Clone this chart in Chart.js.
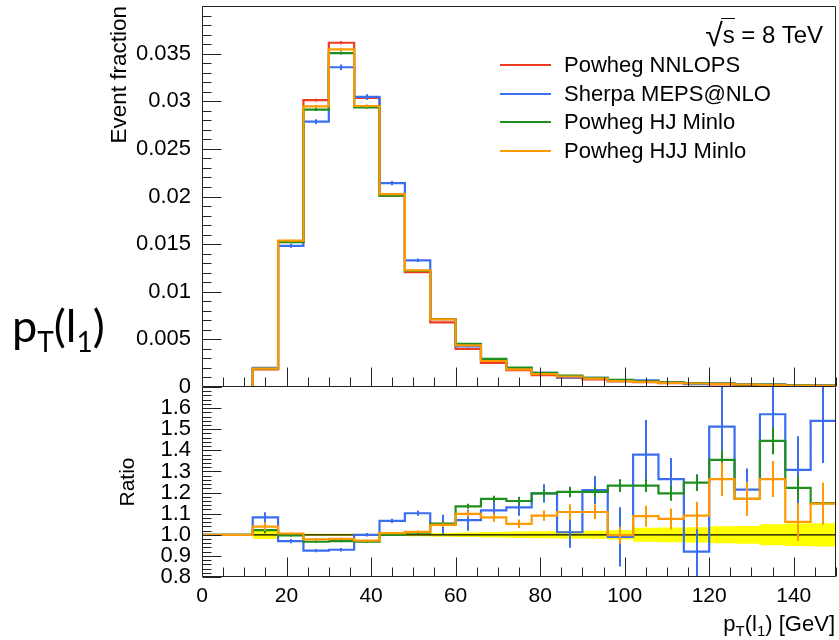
<!DOCTYPE html>
<html><head><meta charset="utf-8">
<script src="https://cdn.jsdelivr.net/npm/chart.js@4.4.1/dist/chart.umd.min.js"></script>
<style>
html,body{margin:0;padding:0;background:#fff;}
#wrap{position:relative;width:839px;height:640px;overflow:hidden;font-family:"Liberation Sans",Arial,sans-serif;color:#000;}
canvas{position:absolute;left:0;top:0;}
.t{position:absolute;white-space:nowrap;line-height:22px;font-size:22px;}
.ln{position:absolute;height:2px;width:51px;left:500px;}
.sb{font-size:15px;position:relative;top:5px;}
</style></head><body>
<div id="wrap">
<canvas id="cTop" width="839" height="640"></canvas>
<canvas id="cBot" width="839" height="640"></canvas>
<div class="t" style="right:16px;top:20px;font-size:24px;line-height:24px;"><span style="font-size:32px;position:relative;top:3px;">&radic;</span><span style="border-top:1.5px solid #000;padding-top:2px;margin-left:-2px;padding-left:2px;">s</span> = 8 TeV</div>
<div id="legend"></div>
<div class="t" style="right:4px;top:613px;">p<span class="sb">T</span>(l<span class="sb">1</span>) [GeV]</div>
<div style="position:absolute;left:12px;top:300px;font-family:Lato,'Open Sans',sans-serif;font-size:45px;line-height:50px;white-space:nowrap;">p<span style="font-size:28px;position:relative;top:10px;">T</span>(l<span style="font-size:28px;position:relative;top:10px;">1</span>)</div>
</div>
<script>
// ---------------- data ----------------
const binEdges = [0,6,12,18,24,30,36,42,48,54,60,66,72,78,84,90,96,102,108,114,120,126,132,138,144,150];
const seriesNames = ['Powheg NNLOPS','Sherpa MEPS@NLO','Powheg HJ Minlo','Powheg HJJ Minlo'];
const seriesColors = ['#ee3b22','#3a6df0','#1f8f1f','#ff9900'];

// event fraction per bin
const nnlops  = [0,0,0.00186,0.01527,0.03012,0.03614,0.03035,0.02008,0.01207,0.00678,0.00399,0.00252,0.00176,0.00124,0.00099,0.00079,0.00062,0.00050,0.00041,0.00034,0.00026,0.00022,0.00018,0.00015,0.00013];
const sherpa  = [0,0,0.00201,0.01481,0.02786,0.03357,0.03045,0.02141,0.01330,0.00712,0.00427,0.00281,0.00198,0.00148,0.00100,0.00096,0.00061,0.00069,0.00052,0.00031,0.00039,0.00027,0.00028,0.00020,0.00020];
const hjMinlo = [0,0,0.00190,0.01522,0.02913,0.03506,0.02935,0.02008,0.01219,0.00714,0.00453,0.00295,0.00204,0.00148,0.00119,0.00095,0.00076,0.00062,0.00049,0.00042,0.00035,0.00026,0.00026,0.00018,0.00015];
const hjjMinlo= [0,0,0.00193,0.01536,0.02946,0.03545,0.02950,0.02024,0.01224,0.00710,0.00438,0.00273,0.00185,0.00135,0.00110,0.00088,0.00062,0.00054,0.00044,0.00037,0.00033,0.00026,0.00023,0.00016,0.00015];

const errNnlops  = [0,0,0.00005,0.00012,0.00015,0.00016,0.00015,0.00012,0.0001,0.00007,0.00005,0.00004,0.00003,0.00003,0.00002,0.00002,0.00002,0.00002,0.00002,0.00001,0.00001,0.00001,0.00001,0.00001,0.00001];
const errSherpa  = [0,0,0.0001,0.0002,0.00025,0.0003,0.00028,0.00022,0.00018,0.00012,0.0001,0.00008,0.00006,0.00005,0.00005,0.00005,0.00004,0.00004,0.00004,0.00003,0.00003,0.00003,0.00003,0.00002,0.00002];
const errHJ      = [0,0,0.00005,0.00012,0.00015,0.00016,0.00015,0.00012,0.0001,0.00007,0.00005,0.00004,0.00003,0.00003,0.00002,0.00002,0.00002,0.00002,0.00002,0.00001,0.00001,0.00001,0.00001,0.00001,0.00001];
const errHJJ     = [0,0,0.00005,0.00012,0.00015,0.00016,0.00015,0.00012,0.0001,0.00007,0.00005,0.00004,0.00003,0.00003,0.00002,0.00002,0.00002,0.00002,0.00002,0.00001,0.00001,0.00001,0.00001,0.00001,0.00001];

// ratio to Powheg NNLOPS
const ratioSherpa = [1,1,1.082,0.970,0.925,0.929,1.000,1.066,1.102,1.050,1.069,1.116,1.130,1.196,1.012,1.212,0.990,1.380,1.264,0.920,1.512,1.214,1.571,1.307,1.540];
const ratioHJ     = [1,1,1.022,0.997,0.967,0.970,0.967,1.000,1.010,1.053,1.135,1.170,1.160,1.196,1.203,1.203,1.233,1.233,1.196,1.247,1.355,1.170,1.445,1.222,1.150];
const ratioHJJ    = [1,1,1.039,1.006,0.978,0.981,0.972,1.008,1.014,1.047,1.099,1.082,1.052,1.091,1.108,1.108,0.998,1.088,1.075,1.091,1.264,1.170,1.264,1.061,1.148];
const ratioErrSherpa = [0,0,0.025,0.010,0.008,0.008,0.008,0.010,0.012,0.045,0.050,0.040,0.040,0.043,0.074,0.067,0.140,0.164,0.100,0.160,0.200,0.100,0.160,0.160,0.200];
const ratioErrHJ     = [0,0,0.015,0.005,0.005,0.005,0.005,0.005,0.006,0.010,0.012,0.015,0.020,0.020,0.025,0.025,0.030,0.030,0.035,0.040,0.047,0.050,0.063,0.055,0.070];
const ratioErrHJJ    = [0,0,0.020,0.005,0.005,0.005,0.005,0.005,0.006,0.010,0.015,0.020,0.020,0.025,0.037,0.035,0.040,0.050,0.050,0.065,0.080,0.080,0.085,0.090,0.100];
const refBandHalf    = [null,null,0.020,0.006,0.005,0.005,0.005,0.006,0.007,0.009,0.011,0.013,0.015,0.017,0.018,0.019,0.022,0.033,0.035,0.036,0.040,0.042,0.050,0.053,0.055];

// tick labels
const topYTicks   = [0,0.005,0.01,0.015,0.02,0.025,0.03,0.035];
const ratioYTicks = [0.8,0.9,1.0,1.1,1.2,1.3,1.4,1.5,1.6];
const xTicks      = [0,20,40,60,80,100,120,140];

// ---------------- helpers ----------------
const FONT = '"Liberation Sans", Arial, sans-serif';
function steps(vals){
  const pts = [];
  vals.forEach((v,i)=>{ pts.push({x:binEdges[i], y:v}); });
  pts.push({x:binEdges[vals.length], y:vals[vals.length-1]});
  return pts;
}
function bandSteps(half, sign){
  const pts = [];
  half.forEach((h,i)=>{ if(h!==null) pts.push({x:binEdges[i], y:1+sign*h}); });
  pts.push({x:binEdges[half.length], y:1+sign*half[half.length-1]});
  return pts;
}
function noPad(s){ s.paddingTop = 0; s.paddingBottom = 0; s.paddingLeft = 0; s.paddingRight = 0; }

const errBars = {
  id:'errBars',
  afterDatasetDraw(chart, args){
    const ds = chart.data.datasets[args.index];
    if(!ds.vals || !ds.errs) return;
    const {ctx, chartArea:a} = chart; const xs = chart.scales.x, ys = chart.scales.y;
    ctx.save();
    ctx.beginPath(); ctx.rect(a.left, a.top, a.right-a.left, a.bottom-a.top); ctx.clip();
    ctx.strokeStyle = ds.borderColor; ctx.lineWidth = 2;
    ctx.beginPath();
    ds.vals.forEach((v,j)=>{
      const e = ds.errs[j]; if(!e) return;
      const px = Math.round(xs.getPixelForValue((binEdges[j]+binEdges[j+1])/2));
      ctx.moveTo(px, ys.getPixelForValue(v-e)); ctx.lineTo(px, ys.getPixelForValue(v+e));
    });
    ctx.stroke(); ctx.restore();
  }
};

const axisDeco = {
  id:'axisDeco',
  afterDraw(chart, args, o){
    const {ctx, chartArea:a} = chart; const xs = chart.scales.x, ys = chart.scales.y;
    const L = Math.round(a.left)+0.5, R = Math.round(a.right)-0.5, T = Math.round(a.top)+0.5, B = Math.round(a.bottom)-0.5;
    ctx.save(); ctx.strokeStyle = '#222'; ctx.lineWidth = 1; ctx.beginPath();
    ctx.moveTo(L, B); ctx.lineTo(R, B); ctx.lineTo(R, T);
    if(o.drawTop){ ctx.lineTo(L, T); } else { ctx.moveTo(L, T); }
    ctx.lineTo(L, B);
    const nx = Math.round((o.xMax-o.xMin)/o.xMinor);
    for(let k=0;k<=nx;k++){
      const v = o.xMin + k*o.xMinor;
      const major = (k % Math.round(o.xMajor/o.xMinor)) === 0;
      const px = Math.round(xs.getPixelForValue(v))+0.5;
      ctx.moveTo(px, B); ctx.lineTo(px, B-(major?19:9));
    }
    const ny = Math.round((o.yMax-o.yMin)/o.yMinor);
    for(let k=0;k<=ny;k++){
      const v = o.yMin + k*o.yMinor;
      const major = (k % Math.round(o.yMajor/o.yMinor)) === 0;
      const py = Math.round(ys.getPixelForValue(v))+0.5;
      ctx.moveTo(L, py); ctx.lineTo(L+(major?19:9), py);
    }
    ctx.stroke(); ctx.restore();
  }
};

function lineDs(label, vals, errs, color, order, width){
  return {label, data: steps(vals), vals, errs, borderColor: color, backgroundColor: color,
    borderWidth: width||2.2, stepped: true, pointRadius: 0, fill: false, order,
    borderJoinStyle:'miter', borderCapStyle:'butt'};
}

// ---------------- top panel ----------------
new Chart(document.getElementById('cTop'), {
  type:'line',
  data:{ datasets:[
    lineDs(seriesNames[0], nnlops, errNnlops, seriesColors[0], 4),
    lineDs(seriesNames[1], sherpa, errSherpa, seriesColors[1], 3),
    lineDs(seriesNames[2], hjMinlo, errHJ, seriesColors[2], 2),
    lineDs(seriesNames[3], hjjMinlo, errHJJ, seriesColors[3], 1)
  ]},
  options:{
    responsive:false, animation:false, events:[],
    layout:{padding:{left:0, right:3, top:6, bottom:253}},
    plugins:{legend:{display:false}, tooltip:{enabled:false},
      axisDeco:{drawTop:true, xMin:0, xMax:150, xMajor:20, xMinor:5, yMin:0, yMax:0.04, yMajor:0.005, yMinor:0.001}},
    scales:{
      x:{type:'linear', min:0, max:150, grid:{display:false, drawTicks:false}, border:{display:false},
        ticks:{display:false}, afterBuildTicks:s=>{ s.ticks = xTicks.map(v=>({value:v})); },
        afterFit:s=>{ s.height = 0; noPad(s); }},
      y:{type:'linear', min:0, max:0.04, grid:{display:false, drawTicks:false}, border:{display:false},
        afterBuildTicks:s=>{ s.ticks = topYTicks.map(v=>({value:v})); },
        ticks:{autoSkip:false, padding:11, color:'#000', font:{family:FONT, size:22},
          callback:v=> v===0 ? '0' : String(parseFloat(v.toFixed(3)))},
        title:{display:true, text:'Event fraction', align:'end', color:'#000', font:{family:FONT, size:22.5}, padding:{top:106, bottom:0}},
        afterFit:s=>{ s.width = 202; noPad(s); }}
    }
  },
  plugins:[errBars, axisDeco]
});

// ---------------- ratio panel ----------------
new Chart(document.getElementById('cBot'), {
  type:'line',
  data:{ datasets:[
    {label:'band low', data: bandSteps(refBandHalf,-1), borderWidth:0, borderColor:'rgba(0,0,0,0)', pointRadius:0, stepped:true, fill:false, order:11},
    {label:'band high', data: bandSteps(refBandHalf,1), borderWidth:0, borderColor:'rgba(0,0,0,0)', backgroundColor:'#ffff00', pointRadius:0, stepped:true, fill:'-1', order:10},
    {label:'reference', data:[{x:0,y:1},{x:150,y:1}], borderColor:'#000', borderWidth:1.3, pointRadius:0, fill:false, order:5},
    lineDs(seriesNames[1], ratioSherpa, ratioErrSherpa, seriesColors[1], 3),
    lineDs(seriesNames[2], ratioHJ, ratioErrHJ, seriesColors[2], 2),
    lineDs(seriesNames[3], ratioHJJ, ratioErrHJJ, seriesColors[3], 1)
  ]},
  options:{
    responsive:false, animation:false, events:[],
    layout:{padding:{left:0, right:3, top:387, bottom:0}},
    plugins:{legend:{display:false}, tooltip:{enabled:false},
      axisDeco:{drawTop:false, xMin:0, xMax:150, xMajor:20, xMinor:5, yMin:0.8, yMax:1.7, yMajor:0.1, yMinor:0.02}},
    scales:{
      x:{type:'linear', min:0, max:150, grid:{display:false, drawTicks:false}, border:{display:false},
        afterBuildTicks:s=>{ s.ticks = xTicks.map(v=>({value:v})); },
        ticks:{autoSkip:false, maxRotation:0, padding:7, color:'#000', font:{family:FONT, size:21}, callback:v=>String(v)},
        afterFit:s=>{ s.height = 63; noPad(s); }},
      y:{type:'linear', min:0.8, max:1.7, grid:{display:false, drawTicks:false}, border:{display:false},
        afterBuildTicks:s=>{ s.ticks = ratioYTicks.map(v=>({value:v})); },
        ticks:{autoSkip:false, padding:11, color:'#000', font:{family:FONT, size:22}, callback:v=>v.toFixed(1)},
        title:{display:true, text:'Ratio', align:'center', color:'#000', font:{family:FONT, size:21}, padding:{top:116, bottom:0}},
        afterFit:s=>{ s.width = 202; noPad(s); }}
    }
  },
  plugins:[errBars, axisDeco]
});

// ---------------- legend (html) ----------------
const leg = document.getElementById('legend');
seriesNames.forEach((n,i)=>{
  const yc = 65 + i*28.6;
  const l = document.createElement('div'); l.className='ln'; l.style.top=(yc-1)+'px'; l.style.background=seriesColors[i]; leg.appendChild(l);
  const t = document.createElement('div'); t.className='t'; t.style.left='564px'; t.style.top=(yc-11)+'px'; t.textContent=n; leg.appendChild(t);
});
</script>
</body></html>
